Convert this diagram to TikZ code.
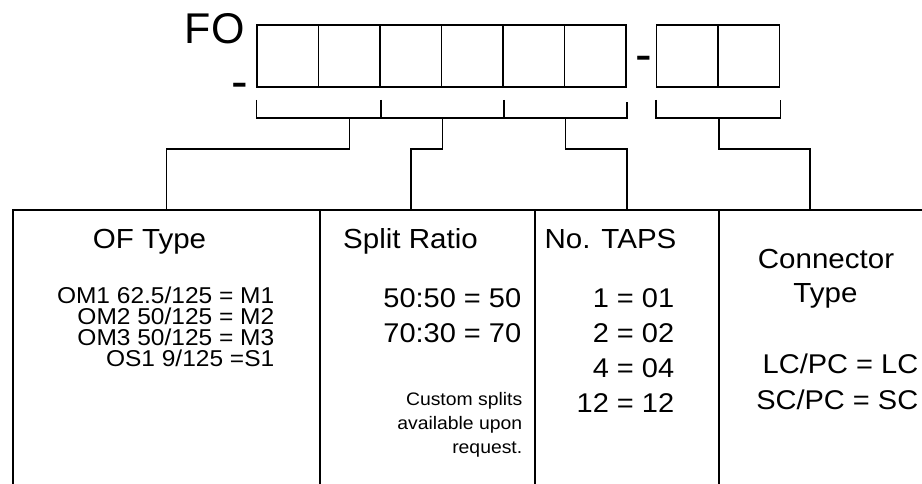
\documentclass[tikz,border=0pt]{standalone}
\usepackage{fontspec}
\setmainfont[FakeStretch=1.07]{Liberation Sans}
\newfontfamily\plainsf{Liberation Sans}
\usepackage{tikz}
\usetikzlibrary{calc,positioning}

\begin{document}
\begin{tikzpicture}[x=1pt,y=-1pt,line width=1.5pt,
  cell/.style={draw,minimum width=61.5pt,minimum height=62pt,inner sep=0pt},
  panel/.style={draw,anchor=north west,inner sep=0pt,minimum height=300pt},
  title/.style={font=\fontsize{27.6}{32}\selectfont,inner sep=0pt,anchor=base},
  entry/.style={inner sep=0pt,anchor=base east},
  small/.style={font=\fontsize{22.9}{22.9}\selectfont,text height=17pt,text depth=3pt},
  big/.style={font=\fontsize{27.1}{33}\selectfont}]
  \useasboundingbox (0,0) rectangle (922,483);
  \clip (0,0) rectangle (922,483);

  % part number boxes
  \node[font=\plainsf\fontsize{43}{43}\selectfont,inner sep=0pt,anchor=base west] (fo) at (184,43) {FO};
  \node[font=\plainsf\fontsize{50}{50}\selectfont,inner sep=0pt,anchor=base] (dashA) at (239.5,98.6) {-};
  \foreach \i in {1,...,6}
    \node[cell] (c\i) at ({257+61.5*(\i-.5)},56) {};
  \node[font=\plainsf\fontsize{50}{50}\selectfont,inner sep=0pt,anchor=base] (dashB) at (643.5,71.6) {-};
  \foreach \i in {1,2}
    \node[cell] (d\i) at ({656.5+61.5*(\i-.5)},56) {};

  % brackets
  \draw ($(c1.south west)+(0,12)$) |- ($(c6.south east)+(0,30)$) -- ($(c6.south east)+(0,14)$);
  \foreach \k in {2,4}
    \draw ($(c\k.south east)+(0,12)$) -- ($(c\k.south east)+(0,30)$);
  \draw ($(d1.south west)+(0,12)$) |- ($(d2.south east)+(0,30)$) -- ($(d2.south east)+(0,12)$);
  \coordinate (jA) at ($(c2.south)+(0,30)$);
  \coordinate (jB) at ($(c3.south east)+(0,30)$);
  \coordinate (jC) at ($(c5.south east)+(0,30)$);
  \coordinate (jD) at ($(d1.south east)+(0,30)$);

  % panels
  \node[panel,minimum width=307pt] (oftype) at (12,209) {};
  \node[panel,minimum width=215pt] (split) at (319,209) {};
  \node[panel,minimum width=184pt] (taps) at (534,209) {};
  \node[panel,minimum width=230pt] (conn) at (718,209) {};

  \draw (jA) -- ++(0,31) -| (oftype.north);
  \draw (jB) -- ++(0,31) -| ($(split.north west)+(92,0)$);
  \draw (jC) -- ++(0,31) -| (taps.north);
  \draw (jD) -- ++(0,31) -| ($(conn.north west)+(92,0)$);

  % OF type
  \node[title] (oft) at (149.5,248) {OF Type};
  \foreach \txt [count=\i] in {{OM1 62.5/125 = M1},{OM2 50/125 = M2},{OM3 50/125 = M3},{OS1 9/125 =S1}}
    \node[entry,small] (om\i) at (275,{303+21*(\i-1)}) {\txt};

  % split ratio
  \node[title] (srt) at (410.5,248) {Split Ratio};
  \foreach \txt [count=\i] in {{50:50 = 50},{70:30 = 70}}
    \node[entry,big] (sr\i) at (522,{307+35*(\i-1)}) {\txt};
  \foreach \txt [count=\i] in {{Custom splits},{available upon},{request.}}
    \node[entry,font=\fontsize{18.1}{18.1}\selectfont] (cs\i) at (523,{405+24*(\i-1)}) {\txt};

  % taps
  \node[title] (tpt) at (610.5,248) {No. TAPS};
  \foreach \txt [count=\i] in {{1 = 01},{2 = 02},{4 = 04},{12 = 12}}
    \node[entry,big] (tp\i) at (675,{307+35*(\i-1)}) {\txt};

  % connector
  \node[title] (cnt) at (826,268) {Connector};
  \node[title] (cnt2) at (825.5,302) {Type};
  \foreach \txt [count=\i] in {{LC/PC = LC},{SC/PC = SC}}
    \node[entry,big] (ct\i) at (919,{373+36*(\i-1)}) {\txt};
\end{tikzpicture}
\end{document}
